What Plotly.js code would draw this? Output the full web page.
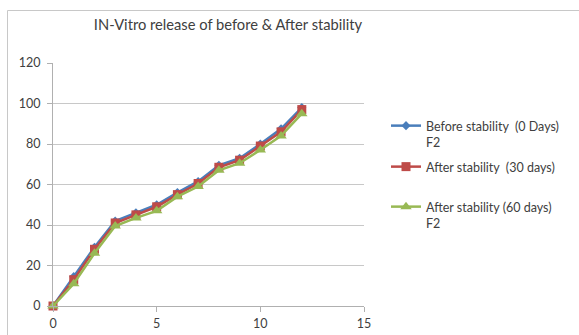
<!DOCTYPE html>
<html>
<head>
<meta charset="utf-8">
<script src="https://cdn.plot.ly/plotly-3.0.1.min.js"></script>
<style>html,body{margin:0;padding:0;background:#fff;}#chart{width:579px;height:335px;}</style>
</head>
<body>
<div id="chart"></div>
<script>
const days = [0,1,2,3,4,5,6,7,8,9,10,11,12];
const before0 = [0,14.5,29,42,46,50,56,61.5,69.5,73,80,87.5,98];
const after30 = [0,13,28,41,45,49,55,60.5,68.5,72,79,86,97];
const after60 = [0,11,26,39.5,43.5,47,54,59,67,70.5,77,84,95];
const names = ["Before stability  (0 Days)<br>F2", "After stability  (30 days)<br> ", "After stability (60 days)<br>F2"];
const colors = ["#4A7EBB", "#BE4B48", "#98B954"];
const symbols = ["diamond", "square", "triangle-up"];
const sizes = [7, 9, 10];
const series = [before0, after30, after60];

const W = 579, H = 335;
const L = 53, R = 364, T = 63, B = 306;
const px = v => (v - L) / (R - L);
const py = v => (B - v) / (B - T);

const font = "Lato, 'Open Sans', sans-serif";
const traces = series.map((s, i) => ({
  x: days, y: s, type: "scatter", mode: "lines+markers",
  name: names[i],
  legend: i === 0 ? "legend" : "legend" + (i + 1),
  line: {color: colors[i], width: 2.5},
  marker: {color: colors[i], symbol: symbols[i], size: sizes[i]},
  cliponaxis: false
}));

const legBase = (yy) => ({
  x: px(386), y: py(yy), xanchor: "left", yanchor: "top",
  bgcolor: "rgba(0,0,0,0)", valign: "top",
  font: {family: font, size: 12.5, color: "#404040"},
  itemwidth: 30
});

const layout = {
  width: W, height: H,
  margin: {l: L, r: W - R, t: T, b: H - B},
  paper_bgcolor: "#fff", plot_bgcolor: "#fff",
  font: {family: font, size: 12.5, color: "#404040"},
  title: {text: "IN-Vitro release of before & After stability", x: 228 / W, xanchor: "center", y: 1 - 25 / H, yanchor: "middle", font: {family: font, size: 14.7, color: "#404040"}},
  xaxis: {range: [0, 15], dtick: 5, tick0: 0, showgrid: false, zeroline: false,
    showline: true, linecolor: "#b0b0b0", linewidth: 1, ticks: "outside", ticklen: 5, tickcolor: "#b0b0b0",
    tickfont: {family: font, size: 12.5, color: "#404040"}, ticklabelstandoff: 1},
  yaxis: {range: [0, 120], dtick: 20, tick0: 0, showgrid: true, gridcolor: "#c8c8c8", zeroline: false,
    showline: true, linecolor: "#b0b0b0", linewidth: 1, ticks: "outside", ticklen: 5, tickcolor: "#b0b0b0",
    tickfont: {family: font, size: 12.5, color: "#404040"}, ticklabelstandoff: 4},
  showlegend: true,
  legend: legBase(111),
  legend2: legBase(152),
  legend3: legBase(192),
  shapes: [
    {type: "line", xref: "paper", yref: "paper", x0: px(7.5), x1: px(579), y0: py(10.5), y1: py(10.5), line: {color: "#c8c8c8", width: 1}},
    {type: "line", xref: "paper", yref: "paper", x0: px(7.5), x1: px(7.5), y0: py(10.5), y1: py(335), line: {color: "#c8c8c8", width: 1}}
  ]
};

Plotly.newPlot("chart", traces, layout, {displayModeBar: false, staticPlot: true});
</script>
</body>
</html>
